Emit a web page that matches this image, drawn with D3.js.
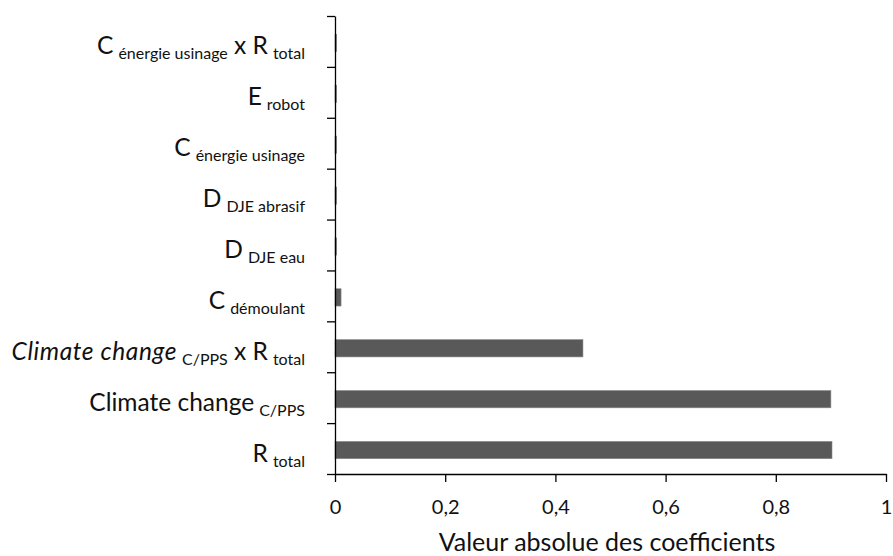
<!DOCTYPE html>
<html lang="en">
    <head>
        <meta charset="utf-8">
        <title>Valeur absolue des coefficients</title>
        <script type="text/javascript" src="https://d3js.org/d3.v7.min.js"></script>

        <style type="text/css">
            body {
                margin: 0;
                background-color: #ffffff;
            }

            text {
                font-family: Lato, "Open Sans", sans-serif;
                fill: #111111;
            }

            /* axis lines */
            .axis path,
            .axis line {
                stroke: #000000;
                stroke-width: 1.3px;
            }

            .x.axis text {
                font-size: 20px;
            }

            .cat_label {
                font-size: 24.5px;
            }

            .x.title {
                font-size: 25px;
            }
        </style>
    </head>

    <body>
        <svg width="893" height="556" id="svg1"></svg>

        <script type="text/javascript">

            // categories, top to bottom ( _{..} = subscript, *..* = italic )
            const categories = [
                "C_{énergie usinage} x R_{total}",
                "E_{robot}",
                "C_{énergie usinage}",
                "D_{DJE abrasif}",
                "D_{DJE eau}",
                "C_{démoulant}",
                "*Climate change*_{C/PPS} x R_{total}",
                "Climate change_{C/PPS}",
                "R_{total}"
            ];

            // absolute value of each coefficient
            const values = [0.003, 0.003, 0.003, 0.003, 0.003, 0.011, 0.45, 0.9, 0.902];

            const xTicks = [0, 0.2, 0.4, 0.6, 0.8, 1];

            const svg = d3.select("#svg1");
            const plotLeft = 335;
            const plotRight = 886;
            const plotTop = 16;
            const plotBottom = 474;

            const xScale = d3.scaleLinear()
                            .domain([0, 1])
                            .range([plotLeft, plotRight]);

            const yScale = d3.scaleBand()
                            .domain(categories)
                            .range([plotTop, plotBottom])
                            .paddingInner(0.66)
                            .paddingOuter(0.33);

            // band boundaries for the category ticks
            const yEdges = d3.scaleLinear()
                            .domain([0, categories.length])
                            .range([plotTop, plotBottom]);

            // bars
            svg.selectAll("rect.bar")
                .data(values)
                .enter()
                .append("rect")
                .attr("class", "bar")
                .attr("x", xScale(0))
                .attr("y", (d, i) => yScale(categories[i]) + 1.5)
                .attr("width", d => xScale(d) - xScale(0))
                .attr("height", yScale.bandwidth())
                .style("fill", "#595959")
                .style("stroke", "#8a8a8a")
                .style("stroke-width", 0.6);

            // y axis with ticks between categories
            svg.append("g")
                .attr("class", "y axis")
                .attr("transform", "translate(" + plotLeft + ",0)")
                .call(d3.axisLeft(yEdges)
                        .tickValues(d3.range(categories.length + 1))
                        .tickSize(8)
                        .tickSizeOuter(0)
                        .tickFormat(""));

            // x axis
            svg.append("g")
                .attr("class", "x axis")
                .attr("transform", "translate(0," + plotBottom + ")")
                .call(d3.axisBottom(xScale)
                        .tickValues(xTicks)
                        .tickSize(8)
                        .tickSizeOuter(0)
                        .tickPadding(25)
                        .tickFormat(d => d3.format("~g")(d).replace(".", ",")));

            svg.selectAll(".x.axis .tick text").attr("dy", "0.35em");

            // split a label into plain / italic / subscript pieces
            function parts(label) {
                const out = [];
                const re = /\*([^*]+)\*|_\{([^}]+)\}|([^*_]+)/g;
                let m;
                while ((m = re.exec(label)) !== null) {
                    if (m[1]) out.push({ t: m[1], sub: false, it: true });
                    else if (m[2]) out.push({ t: m[2], sub: true, it: false });
                    else out.push({ t: m[3], sub: false, it: false });
                }
                return out;
            }

            const labels = svg.selectAll("text.cat_label")
                .data(categories)
                .enter()
                .append("text")
                .attr("class", "cat_label")
                .attr("text-anchor", "end")
                .attr("x", 305)
                .attr("y", d => yScale(d) + yScale.bandwidth() / 2 + 13);

            labels.each(function (d) {
                const t = d3.select(this);
                let low = false;
                parts(d).forEach(p => {
                    const ts = t.append("tspan").text(p.t);
                    if (p.sub) {
                        ts.attr("dy", low ? 0 : 5).attr("dx", 5).style("font-size", "16px");
                        low = true;
                    } else {
                        ts.attr("dy", low ? -5 : 0);
                        low = false;
                    }
                    if (p.it) ts.style("font-style", "italic").style("letter-spacing", "0.6px");
                });
            });

            // x axis title
            svg.append("text")
                .attr("class", "x title")
                .attr("text-anchor", "middle")
                .attr("x", 607)
                .attr("y", 551)
                .text("Valeur absolue des coefficients");

        </script>
    </body>
</html>
